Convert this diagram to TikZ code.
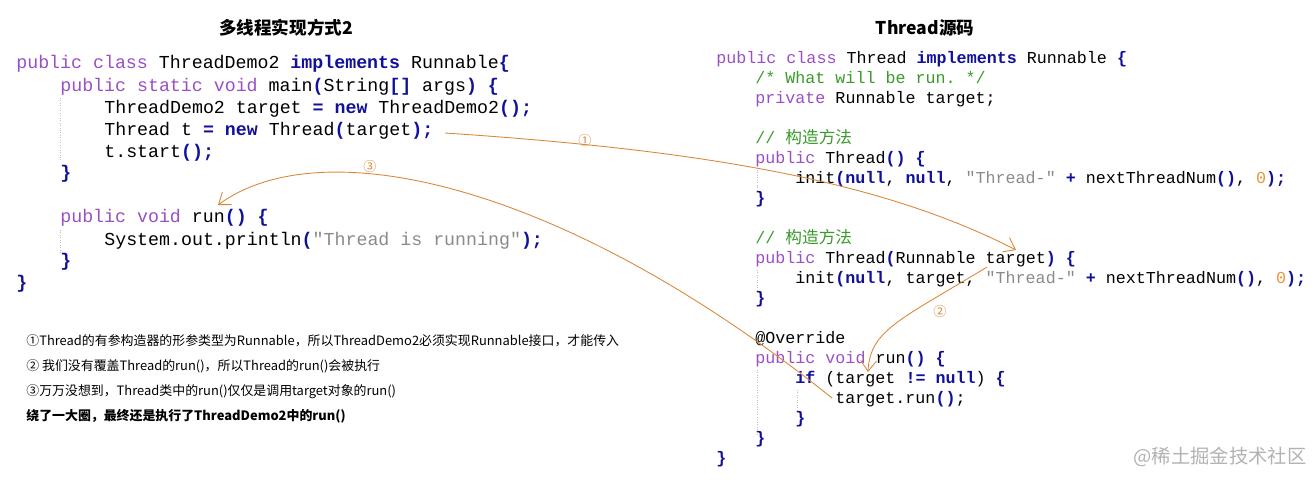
\documentclass[tikz,border=0pt]{standalone}
\usepackage{fontspec}
\setmainfont{Liberation Sans}
\setmonofont{Liberation Mono}
\newfontfamily\cjk{Noto Sans CJK SC}
\usetikzlibrary{arrows.meta}
\definecolor{kwpurple}{HTML}{9A4FC4}
\definecolor{kwnavy}{HTML}{10109A}
\definecolor{cmtgreen}{HTML}{3A9A2A}
\definecolor{strgray}{HTML}{8A8A8A}
\definecolor{numorange}{HTML}{E8963A}
\definecolor{arrorange}{HTML}{D9883A}
\newcommand{\kw}[1]{\textcolor{kwpurple}{#1}}
\newcommand{\kb}[1]{\textcolor{kwnavy}{\bfseries #1}}
\newcommand{\cmt}[1]{\textcolor{cmtgreen}{#1}}
\newcommand{\str}[1]{\textcolor{strgray}{#1}}
\newcommand{\num}[1]{\textcolor{numorange}{#1}}
\tikzset{
  lcode/.style={anchor=base west,inner sep=0pt,font=\ttfamily\fontsize{10.4}{12}\selectfont},
  rcode/.style={anchor=base west,inner sep=0pt,font=\ttfamily\fontsize{9.5}{11}\selectfont},
  note/.style={anchor=base west,inner sep=0pt,font=\cjk\fontsize{7.35}{9}\selectfont},
  title/.style={inner sep=0pt,font=\cjk\bfseries\fontsize{10}{12}\selectfont},
  guide/.style={gray!50,densely dotted,line width=0.4pt},
  flow/.style={arrorange,line width=0.5pt,-{Straight Barb[length=6pt,width=9pt]}},
  tag/.style={text=arrorange,inner sep=0pt,font=\cjk\fontsize{7.5}{9}\selectfont}
}
\begin{document}
\begin{tikzpicture}[x=0.02cm,y=-0.02cm]
  \useasboundingbox (0,0) rectangle (1315,484);

  % titles
  \node[title] (t1) at (286,28) {多线程实现方式2};
  \node[title] (t2) at (925,28) {Thread源码};

  % left code
  \node[lcode] (l1) at (16,68) {\kw{public class} ThreadDemo2 \kb{implements} Runnable\kb{\{}};
  \node[lcode] (l2) at (60,91) {\kw{public static void} main\kb{(}String\kb{[]} args\kb{)} \kb{\{}};
  \node[lcode] (l3) at (104,113) {ThreadDemo2 target \kb{=} \kb{new} ThreadDemo2\kb{();}};
  \node[lcode] (l4) at (104,135) {Thread t \kb{=} \kb{new} Thread\kb{(}target\kb{);}};
  \node[lcode] (l5) at (104,157) {t.start\kb{();}};
  \node[lcode] (l6) at (60,178) {\kb{\}}};
  \node[lcode] (l7) at (60,222) {\kw{public void} run\kb{()} \kb{\{}};
  \node[lcode] (l8) at (104,245) {System.out.println\kb{(}\str{"Thread is running"}\kb{);}};
  \node[lcode] (l9) at (60,266) {\kb{\}}};
  \node[lcode] (l10) at (16,288) {\kb{\}}};
  \draw[guide] (60,98) -- (60,160);
  \draw[guide] (60,230) -- (60,254);

  % right code
  \node[rcode] (r1) at (716,63) {\kw{public class} Thread \kb{implements} Runnable \kb{\{}};
  \node[rcode] (r2) at (755,83) {\cmt{/* What will be run. */}};
  \node[rcode] (r3) at (755,103) {\kw{private} Runnable target;};
  \node[rcode] (r4) at (755,143) {\cmt{// {\cjk 构造方法}}};
  \node[rcode] (r5) at (755,163) {\kw{public} Thread\kb{()} \kb{\{}};
  \node[rcode] (r6) at (795,183) {init\kb{(null}, \kb{null}, \str{"Thread-"} \kb{+} nextThreadNum\kb{()}, \num{0}\kb{);}};
  \node[rcode] (r7) at (755,203) {\kb{\}}};
  \node[rcode] (r8) at (755,243) {\cmt{// {\cjk 构造方法}}};
  \node[rcode] (r9) at (755,263) {\kw{public} Thread\kb{(}Runnable target\kb{)} \kb{\{}};
  \node[rcode] (r10) at (795,283) {init\kb{(null}, target, \str{"Thread-"} \kb{+} nextThreadNum\kb{()}, \num{0}\kb{);}};
  \node[rcode] (r11) at (755,303) {\kb{\}}};
  \node[rcode] (r12) at (755,343) {@Override};
  \node[rcode] (r13) at (755,363) {\kw{public void} run\kb{()} \kb{\{}};
  \node[rcode] (r14) at (795,383) {\kb{if} (target \kb{!=} \kb{null}) \kb{\{}};
  \node[rcode] (r15) at (835,403) {target.run\kb{()};};
  \node[rcode] (r16) at (795,423) {\kb{\}}};
  \node[rcode] (r17) at (755,443) {\kb{\}}};
  \node[rcode] (r18) at (716,463) {\kb{\}}};
  \draw[guide] (757,170) -- (757,194);
  \draw[guide] (757,270) -- (757,294);
  \draw[guide] (757,370) -- (757,434);
  \draw[guide] (797,390) -- (797,414);

  % notes
  \node[note] (n1) at (26,345) {①Thread的有参构造器的形参类型为Runnable，所以ThreadDemo2必须实现Runnable接口，才能传入};
  \node[note] (n2) at (26,370) {② 我们没有覆盖Thread的run()，所以Thread的run()会被执行};
  \node[note] (n3) at (26,395) {③万万没想到，Thread类中的run()仅仅是调用target对象的run()};
  \node[note,font=\cjk\bfseries\fontsize{7.35}{9}\selectfont] (n4) at (26,420) {绕了一大圈，最终还是执行了ThreadDemo2中的run()};

  % arrows
  \coordinate (a1) at (445,133);
  \coordinate (b1) at (1016,250);
  \coordinate (a2) at (987,267);
  \coordinate (b2) at (868,372);
  \coordinate (a3) at (832,398);
  \coordinate (b3) at (218,205);
  \draw[flow] (a1) .. controls (700,150) and (880,180) .. (b1);
  \draw[flow] (a2) .. controls (900,320) and (870,330) .. (b2);
  \draw[flow] (a3) .. controls (560,180) and (320,130) .. (b3);
  \node[tag] (c1) at (585,140) {①};
  \node[tag] (c2) at (940,311) {②};
  \node[tag] (c3) at (370,166) {③};

  % watermark
  \node[inner sep=0pt,text=gray!60,font=\cjk\fontsize{11}{13}\selectfont] (wm) at (1220,457) {@稀土掘金技术社区};
\end{tikzpicture}
\end{document}
